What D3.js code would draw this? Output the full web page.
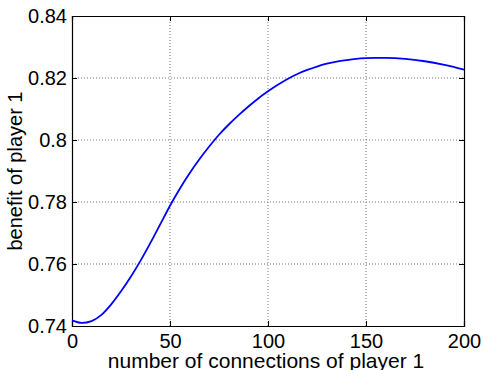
<!DOCTYPE html>
<html>
<head>
<meta charset="utf-8">
<script src="https://cdn.jsdelivr.net/npm/d3@7"></script>
<style>
  body { margin: 0; background: #fff; }
  text { font-family: "Liberation Sans", Arial, Helvetica, sans-serif; fill: #000; }
</style>
</head>
<body>
<svg width="484" height="370"></svg>
<script>
// number of connections of player 1
var connections = [0, 5, 10, 15, 20, 25, 30, 35, 40, 45, 50, 55, 60, 65, 70, 75, 80, 85, 90, 95, 100,
                   105, 110, 115, 120, 125, 130, 135, 140, 145, 150, 155, 160, 170, 180, 190, 200];
// benefit of player 1
var benefit = [0.7418, 0.7410, 0.7416, 0.7436, 0.7470, 0.7512, 0.7559, 0.7611, 0.7668, 0.7728, 0.7788,
               0.7843, 0.7893, 0.7938, 0.7979, 0.8017, 0.8050, 0.8080, 0.8108, 0.8134, 0.8157,
               0.8178, 0.8197, 0.8213, 0.8226, 0.8237, 0.8246, 0.8253, 0.8258, 0.8262, 0.8264, 0.8265,
               0.8265, 0.8262, 0.8254, 0.8242, 0.8227];
var xTicks = [0, 50, 100, 150, 200];
var yTicks = [0.74, 0.76, 0.78, 0.80, 0.82, 0.84];
var yTickLabels = ["0.74", "0.76", "0.78", "0.8", "0.82", "0.84"];

var svg = d3.select("svg");
var margin = {left: 72, top: 16, right: 20, bottom: 44};
var width = 484 - margin.left - margin.right;   // 392
var height = 370 - margin.top - margin.bottom;  // 310

var g = svg.append("g")
    .attr("transform", "translate(" + margin.left + "," + margin.top + ")");

var x = d3.scaleLinear().domain([0, 200]).range([0, width]);
var y = d3.scaleLinear().domain([0.74, 0.84]).range([height, 0]);

// dotted grid
g.append("g").selectAll("line")
    .data(xTicks.slice(1, -1))
    .enter().append("line")
    .attr("x1", x).attr("x2", x)
    .attr("y1", 0).attr("y2", height)
    .attr("stroke", "#777").attr("stroke-width", 1)
    .attr("stroke-dasharray", "1,2");

g.append("g").selectAll("line")
    .data(yTicks.slice(1, -1))
    .enter().append("line")
    .attr("y1", y).attr("y2", y)
    .attr("x1", 0).attr("x2", width)
    .attr("stroke", "#777").attr("stroke-width", 1)
    .attr("stroke-dasharray", "1,2");

// axes with inward ticks, MATLAB style
var fmtY = function(d, i) { return yTickLabels[i]; };

var axBottom = g.append("g")
    .attr("transform", "translate(0," + height + ")")
    .call(d3.axisBottom(x).tickValues(xTicks).tickSize(-5).tickPadding(8));
var axLeft = g.append("g")
    .call(d3.axisLeft(y).tickValues(yTicks).tickSize(-5).tickPadding(5).tickFormat(fmtY));
var axTop = g.append("g")
    .call(d3.axisTop(x).tickValues(xTicks).tickSize(-5).tickFormat(""));
var axRight = g.append("g")
    .attr("transform", "translate(" + width + ",0)")
    .call(d3.axisRight(y).tickValues(yTicks).tickSize(-5).tickFormat(""));

[axBottom, axLeft, axTop, axRight].forEach(function(a) {
    a.select(".domain").attr("stroke", "#000").attr("stroke-width", 1.2);
    a.selectAll(".tick line").attr("stroke", "#000");
    a.selectAll(".tick text")
        .style("font-size", "20px")
        .style("font-family", "'Liberation Sans', Arial, sans-serif");
});

// curve
var line = d3.line()
    .x(function(d, i) { return x(connections[i]); })
    .y(function(d) { return y(d); })
    .curve(d3.curveMonotoneX);

g.append("path")
    .datum(benefit)
    .attr("fill", "none")
    .attr("stroke", "#0000ff")
    .attr("stroke-width", 1.8)
    .attr("d", line);

// labels
svg.append("text")
    .attr("x", margin.left + width / 2 - 2)
    .attr("y", 368)
    .attr("text-anchor", "middle")
    .style("font-size", "21px")
    .text("number of connections of player 1");

svg.append("text")
    .attr("transform", "translate(22," + (margin.top + height / 2) + ") rotate(-90)")
    .attr("text-anchor", "middle")
    .style("font-size", "20px")
    .text("benefit of player 1");
</script>
</body>
</html>
